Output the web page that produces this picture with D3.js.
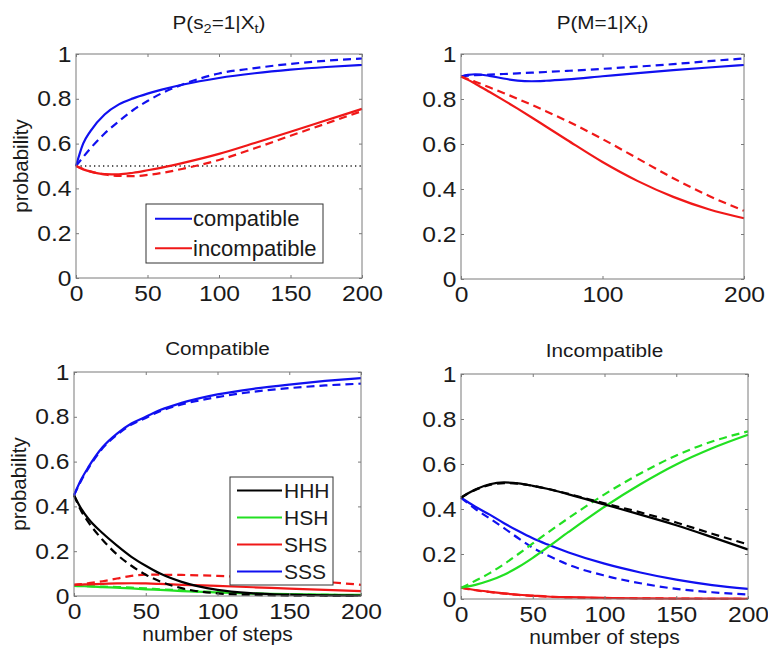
<!DOCTYPE html>
<html>
<head>
<meta charset="utf-8">
<script src="https://cdn.jsdelivr.net/npm/d3@7"></script>
<style>
  html, body { margin: 0; padding: 0; background: #fff; }
  svg { display: block; }
  text { font-family: "Liberation Sans", Arial, sans-serif; fill: #1a1a1a; }
</style>
</head>
<body>
<svg id="chart" width="768" height="652"></svg>
<script>
// ---- data ----------------------------------------------------------------
const steps = [0, 5, 10, 20, 30, 40, 50, 60, 75, 100, 125, 150, 175, 200];
const yTicks = [0, 0.2, 0.4, 0.6, 0.8, 1];
const yTickLabels = ["0", "0.2", "0.4", "0.6", "0.8", "1"];
const xTicksFine = [0, 50, 100, 150, 200];
const xTicksCoarse = [0, 100, 200];

// P(s2=1|Xt)
const s2CompSolid   = [0.5, 0.6, 0.655, 0.73, 0.775, 0.802, 0.823, 0.841, 0.864, 0.893, 0.914, 0.93, 0.942, 0.951];
const s2CompDash    = [0.5, 0.54, 0.578, 0.645, 0.7, 0.75, 0.79, 0.825, 0.865, 0.913, 0.937, 0.956, 0.97, 0.98];
const s2IncSolid    = [0.5, 0.485, 0.475, 0.464, 0.463, 0.47, 0.481, 0.493, 0.514, 0.554, 0.603, 0.653, 0.704, 0.755];
const s2IncDash     = [0.5, 0.487, 0.476, 0.462, 0.456, 0.455, 0.46, 0.469, 0.488, 0.527, 0.579, 0.635, 0.69, 0.745];
const chanceLevel = 0.5;

// P(M=1|Xt)
const mCompSolid    = [0.9, 0.907, 0.91, 0.903, 0.891, 0.882, 0.879, 0.881, 0.887, 0.901, 0.915, 0.928, 0.94, 0.951];
const mCompDash     = [0.9, 0.904, 0.906, 0.908, 0.911, 0.914, 0.917, 0.92, 0.925, 0.934, 0.944, 0.955, 0.968, 0.98];
const mIncSolid     = [0.9, 0.885, 0.868, 0.832, 0.795, 0.757, 0.718, 0.678, 0.618, 0.52, 0.435, 0.365, 0.31, 0.27];
const mIncDash      = [0.9, 0.889, 0.877, 0.852, 0.827, 0.801, 0.774, 0.746, 0.702, 0.622, 0.535, 0.448, 0.37, 0.303];

// Compatible: state probabilities
const cHHHSolid = [0.45, 0.39, 0.345, 0.28, 0.225, 0.175, 0.135, 0.1, 0.063, 0.027, 0.012, 0.006, 0.003, 0.002];
const cHHHDash  = [0.45, 0.38, 0.33, 0.25, 0.185, 0.135, 0.095, 0.065, 0.035, 0.012, 0.005, 0.002, 0.001, 0];
const cHSHSolid = [0.045, 0.044, 0.043, 0.04, 0.037, 0.034, 0.03, 0.027, 0.022, 0.016, 0.011, 0.008, 0.006, 0.005];
const cHSHDash  = [0.045, 0.045, 0.044, 0.042, 0.04, 0.037, 0.034, 0.03, 0.025, 0.017, 0.011, 0.007, 0.005, 0.004];
const cSHSSolid = [0.05, 0.051, 0.052, 0.054, 0.056, 0.057, 0.056, 0.054, 0.05, 0.045, 0.039, 0.033, 0.027, 0.022];
const cSHSDash  = [0.05, 0.053, 0.057, 0.066, 0.078, 0.09, 0.095, 0.095, 0.094, 0.09, 0.083, 0.075, 0.063, 0.05];
const cSSSSolid = [0.45, 0.52, 0.575, 0.665, 0.725, 0.77, 0.8, 0.83, 0.862, 0.9, 0.925, 0.944, 0.96, 0.973];
const cSSSDash  = [0.45, 0.515, 0.57, 0.66, 0.72, 0.765, 0.795, 0.825, 0.855, 0.888, 0.912, 0.928, 0.94, 0.948];

// Incompatible: state probabilities
const iHHHSolid = [0.45, 0.47, 0.487, 0.51, 0.518, 0.514, 0.503, 0.49, 0.465, 0.42, 0.375, 0.328, 0.275, 0.22];
const iHHHDash  = [0.45, 0.47, 0.485, 0.507, 0.515, 0.513, 0.503, 0.49, 0.467, 0.425, 0.385, 0.34, 0.29, 0.243];
const iHSHSolid = [0.05, 0.056, 0.063, 0.082, 0.108, 0.142, 0.183, 0.228, 0.298, 0.41, 0.51, 0.598, 0.67, 0.73];
const iHSHDash  = [0.05, 0.065, 0.081, 0.115, 0.155, 0.2, 0.247, 0.293, 0.36, 0.465, 0.558, 0.638, 0.7, 0.745];
const iSHSSolid = [0.05, 0.045, 0.04, 0.032, 0.025, 0.019, 0.015, 0.011, 0.008, 0.005, 0.003, 0.002, 0.002, 0.001];
const iSHSDash  = [0.05, 0.044, 0.039, 0.031, 0.024, 0.018, 0.014, 0.01, 0.007, 0.004, 0.003, 0.002, 0.001, 0.001];
const iSSSSolid = [0.45, 0.43, 0.41, 0.375, 0.337, 0.302, 0.27, 0.243, 0.207, 0.157, 0.118, 0.086, 0.062, 0.045];
const iSSSDash  = [0.45, 0.425, 0.4, 0.358, 0.315, 0.27, 0.228, 0.195, 0.152, 0.104, 0.07, 0.045, 0.03, 0.02];

const BLUE = "#1010f0", RED = "#f01818", GREEN = "#22e022", BLACK = "#000000";

// ---- drawing ---------------------------------------------------------------
const svg = d3.select("#chart");
const SX = 1.12;   // horizontal widening of the tick/title lettering

const panels = [
  { box: [76, 54, 362, 278], xt: xTicksFine, ylab: true, xlab: false, titleGap: 25,
    title: [["P(s", 0], ["2", 1], ["=1|X", 0], ["t", 1], [")", 0]],
    series: [
      [s2CompSolid, BLUE, false], [s2CompDash, BLUE, true],
      [s2IncSolid, RED, false], [s2IncDash, RED, true]
    ],
    dotted: chanceLevel,
    legend: { box: [146, 204, 323, 263], line: [9, 46], text: 47, size: 22,
              rows: [["compatible", BLUE], ["incompatible", RED]] } },
  { box: [461, 54, 744, 279], xt: xTicksCoarse, ylab: false, xlab: false, titleGap: 25,
    title: [["P(M=1|X", 0], ["t", 1], [")", 0]],
    series: [
      [mCompSolid, BLUE, false], [mCompDash, BLUE, true],
      [mIncSolid, RED, false], [mIncDash, RED, true]
    ] },
  { box: [74, 372, 361, 596], xt: xTicksFine, ylab: true, xlab: true, titleGap: 17,
    title: [["Compatible", 0]],
    series: [
      [cHSHSolid, GREEN, false], [cHSHDash, GREEN, true],
      [cSHSSolid, RED, false], [cSHSDash, RED, true],
      [cHHHSolid, BLACK, false], [cHHHDash, BLACK, true],
      [cSSSSolid, BLUE, false], [cSSSDash, BLUE, true]
    ],
    legend: { box: [230, 477, 333, 585], line: [7, 52], text: 54, size: 21,
              rows: [["HHH", BLACK], ["HSH", GREEN], ["SHS", RED], ["SSS", BLUE]] } },
  { box: [461, 374, 748, 599], xt: xTicksFine, ylab: false, xlab: true, titleGap: 17,
    title: [["Incompatible", 0]],
    series: [
      [iSHSSolid, RED, false], [iSHSDash, RED, true],
      [iSSSSolid, BLUE, false], [iSSSDash, BLUE, true],
      [iHSHSolid, GREEN, false], [iHSHDash, GREEN, true],
      [iHHHSolid, BLACK, false], [iHHHDash, BLACK, true]
    ] }
];

panels.forEach(p => {
  const [x0, y0, x1, y1] = p.box;
  const x = d3.scaleLinear().domain([0, 200]).range([x0, x1]);
  const y = d3.scaleLinear().domain([0, 1]).range([y1, y0]);
  const g = svg.append("g");

  // curves
  const line = d3.line().x((d, i) => x(steps[i])).y(d => y(d)).curve(d3.curveMonotoneX);
  if (p.dotted !== undefined) {
    g.append("path").datum(steps.map(() => p.dotted))
      .attr("d", line).attr("fill", "none").attr("stroke", "#222")
      .attr("stroke-width", 1.3).attr("stroke-dasharray", "1.3,3.2");
  }
  p.series.forEach(([vals, col, dashed]) => {
    g.append("path").datum(vals).attr("d", line)
      .attr("fill", "none").attr("stroke", col).attr("stroke-width", 2.2)
      .attr("stroke-linejoin", "round")
      .attr("stroke-dasharray", dashed ? "8,5" : null);
  });

  // axes with inward ticks on all sides
  const tickLen = 3;
  const axB = d3.axisBottom(x).tickValues(p.xt).tickSizeInner(-tickLen).tickSizeOuter(0).tickPadding(7);
  const axT = d3.axisTop(x).tickValues(p.xt).tickSizeInner(-tickLen).tickSizeOuter(0).tickFormat("");
  const axL = d3.axisLeft(y).tickValues(yTicks).tickSizeInner(-tickLen).tickSizeOuter(0).tickPadding(4)
    .tickFormat((d, i) => yTickLabels[i]);
  const axR = d3.axisRight(y).tickValues(yTicks).tickSizeInner(-tickLen).tickSizeOuter(0).tickFormat("");

  const styleAxis = sel => {
    sel.select(".domain").remove();
    sel.selectAll(".tick line").attr("stroke", "#7a7a7a");
    sel.selectAll("text").attr("font-size", 22).attr("fill", "#1a1a1a")
      .attr("font-family", "Liberation Sans, Arial, sans-serif")
      .attr("transform", `scale(${SX},1)`);
  };
  g.append("g").attr("transform", `translate(0,${y1})`).call(axB).call(styleAxis)
    .selectAll("text").attr("dy", "0.71em");
  g.append("g").attr("transform", `translate(0,${y0})`).call(axT).call(styleAxis);
  g.append("g").attr("transform", `translate(${x0},0)`).call(axL).call(styleAxis);
  g.append("g").attr("transform", `translate(${x1},0)`).call(axR).call(styleAxis);

  g.append("rect").attr("x", x0).attr("y", y0).attr("width", x1 - x0).attr("height", y1 - y0)
    .attr("fill", "none").attr("stroke", "#7a7a7a").attr("stroke-width", 1);

  // title
  const t = g.append("text")
    .attr("transform", `translate(${(x0 + x1) / 2},${y0 - p.titleGap}) scale(${SX},1)`)
    .attr("text-anchor", "middle").attr("font-size", 18.5);
  p.title.forEach(([s, sub]) => {
    const ts = t.append("tspan").text(s);
    if (sub) ts.attr("baseline-shift", "-30%").attr("font-size", 13);
  });

  if (p.ylab) {
    g.append("text").attr("transform", `translate(${x0 - 48},${(y0 + y1) / 2}) rotate(-90)`)
      .attr("text-anchor", "middle").attr("font-size", 20.5).text("probability");
  }
  if (p.xlab) {
    g.append("text").attr("x", (x0 + x1) / 2).attr("y", y1 + 45)
      .attr("text-anchor", "middle").attr("font-size", 21).text("number of steps");
  }

  // legend
  if (p.legend) {
    const L = p.legend;
    const [lx0, ly0, lx1, ly1] = L.box;
    g.append("rect").attr("x", lx0).attr("y", ly0).attr("width", lx1 - lx0).attr("height", ly1 - ly0)
      .attr("fill", "#fff").attr("stroke", "#333").attr("stroke-width", 1);
    const n = L.rows.length;
    const rowH = (ly1 - ly0) / n;
    L.rows.forEach(([name, col], i) => {
      const cy = ly0 + rowH * (i + 0.5);
      g.append("line").attr("x1", lx0 + L.line[0]).attr("x2", lx0 + L.line[1]).attr("y1", cy).attr("y2", cy)
        .attr("stroke", col).attr("stroke-width", 2.2);
      g.append("text").attr("x", lx0 + L.text).attr("y", cy).attr("dy", "0.35em")
        .attr("font-size", L.size).text(name);
    });
  }
});
</script>
</body>
</html>
